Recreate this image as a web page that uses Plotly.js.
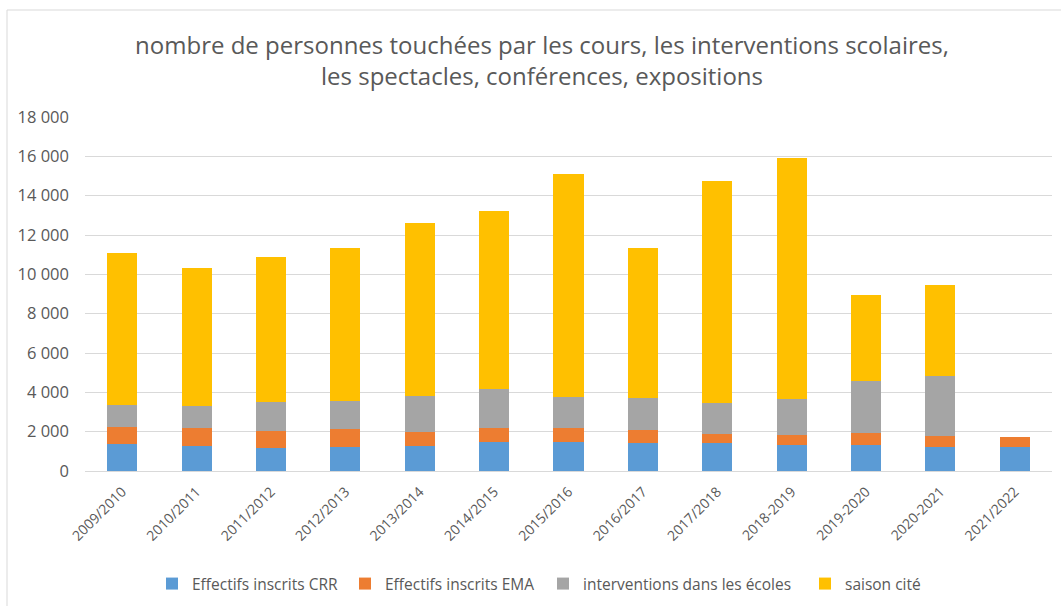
<!DOCTYPE html>
<html>
<head>
<meta charset="utf-8">
<script src="https://cdn.plot.ly/plotly-3.0.1.min.js"></script>
<style>html,body{margin:0;padding:0;background:#fff;}#chart{width:1061px;height:606px;}</style>
</head>
<body>
<div id="chart"></div>
<script>
const seasons = ["2009/2010","2010/2011","2011/2012","2012/2013","2013/2014","2014/2015","2015/2016","2016/2017","2017/2018","2018-2019","2019-2020","2020-2021","2021/2022"];
const crr     = [1350, 1250, 1150, 1200, 1250, 1500, 1500, 1400, 1400, 1330, 1330, 1200, 1200];
const ema     = [870, 930, 880, 915, 745, 680, 680, 680, 490, 510, 610, 590, 525];
const ecoles  = [1140, 1150, 1470, 1440, 1830, 1970, 1590, 1630, 1550, 1820, 2650, 3040, 0];
const saison  = [7725, 6990, 7400, 7790, 8780, 9080, 11340, 7640, 11330, 12250, 4380, 4630, 0];
const names = ["Effectifs inscrits CRR","Effectifs inscrits EMA","interventions dans les écoles","saison cité"];
const colors = ["#5B9BD5","#ED7D31","#A5A5A5","#FFC000"];
const series = [crr, ema, ecoles, saison];

const font = "Open Sans, Liberation Sans, sans-serif";
const legendIds = ["legend","legend2","legend3","legend4"];
const traces = series.map((s,i)=>({
  type:"bar", x:seasons, y:s, name:names[i], legend:legendIds[i],
  marker:{color:colors[i]}, hoverinfo:"x+y+name"
}));

const W=1061, H=606;
const L=85, R=1052, T=117, B=471;
const pw=R-L, ph=B-T;
const legendLeft = [152, 345, 543, 805];
const layout = {
  width:W, height:H,
  margin:{l:L, r:W-R, t:T, b:H-B},
  barmode:"stack", bargap:0.596,
  separators:", ",
  paper_bgcolor:"#fff", plot_bgcolor:"#fff",
  font:{family:font, color:"#595959", size:13},
  title:{text:"nombre de personnes touchées par les cours, les interventions scolaires,<br>les spectacles, conférences, expositions",
    font:{family:font, size:24, color:"#595959"}, x:542/W, xanchor:"center", xref:"container", y:0.911, yanchor:"middle"},
  xaxis:{tickangle:-45, tickfont:{size:14, color:"#595959"}, showgrid:false, showline:true, linecolor:"#D9D9D9", linewidth:1, ticks:"", automargin:false, ticklabelstandoff:6},
  yaxis:{range:[0,18000], dtick:2000, tickformat:",d", showgrid:true, gridcolor:"#D9D9D9", gridwidth:1, zeroline:false, showline:false, ticks:"", tickfont:{size:16.5, color:"#595959"}, automargin:false, ticklabelstandoff:15},
  showlegend:true,
  shapes:[{type:"rect", xref:"paper", yref:"paper", x0:(7-L)/pw, x1:(1070-L)/pw, y0:(B-615)/ph, y1:(B-10)/ph, line:{color:"#D9D9D9", width:1}, fillcolor:"rgba(0,0,0,0)", layer:"below"}]
};
legendIds.forEach((id,i)=>{
  layout[id] = {orientation:"h", xref:"container", yref:"container", x:legendLeft[i]/W, xanchor:"left", y:1-584/H, yanchor:"middle",
    font:{size:15.5, color:"#595959"}, itemwidth:30, bgcolor:"rgba(0,0,0,0)"};
});
Plotly.newPlot("chart", traces, layout, {displayModeBar:false, staticPlot:true});
</script>
</body>
</html>
